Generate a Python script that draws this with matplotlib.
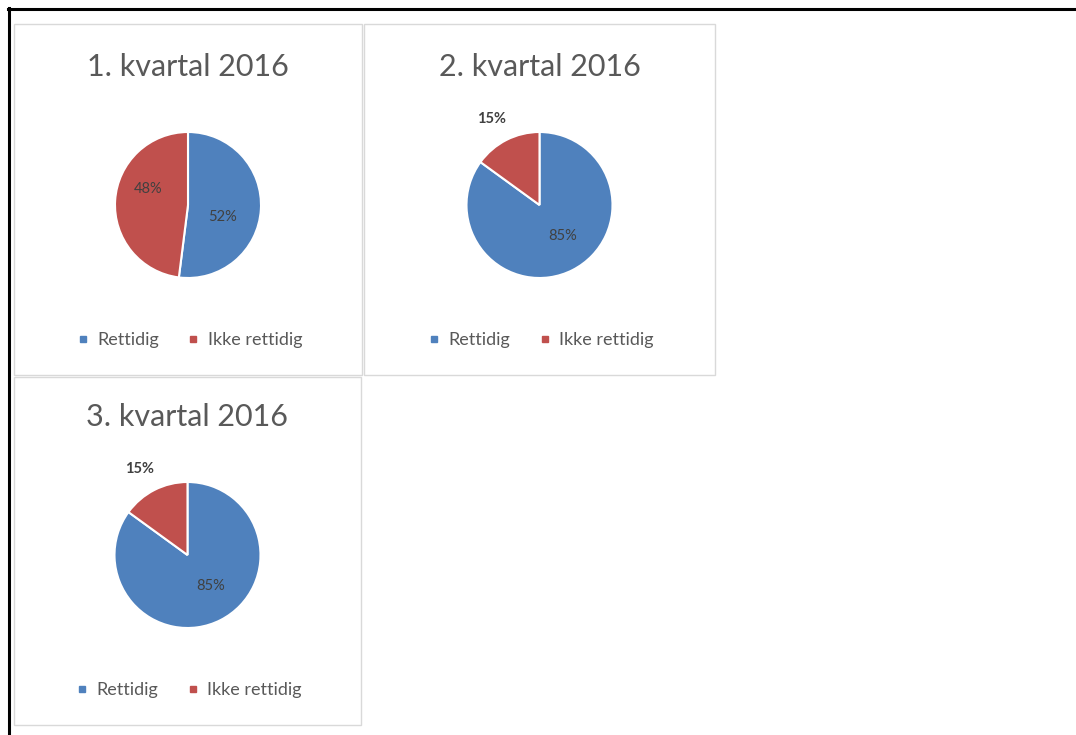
import numpy as np
import matplotlib.pyplot as plt
from matplotlib.patches import Rectangle
from matplotlib.lines import Line2D

# data
titles = ['1. kvartal 2016', '2. kvartal 2016', '3. kvartal 2016']
categories = ['Rettidig', 'Ikke rettidig']
rettidig = [52, 85, 85]
ikke_rettidig = [48, 15, 15]

colors = ['#4F81BD', '#C0504D']
text_col = '#595959'
label_col = '#404040'

W, H = 1076, 735
plt.rcParams['font.family'] = ['Lato', 'DejaVu Sans']

fig = plt.figure(figsize=(W / 100, H / 100), dpi=100)


def fx(px):
    return px / W


def fy(py):
    return 1 - py / H


# outer frame (top + left only, screenshot is cropped)
fig.add_artist(Line2D([fx(8), 1], [fy(8.5), fy(8.5)], color='black', lw=2.2))
fig.add_artist(Line2D([fx(8.5), fx(8.5)], [fy(8), 0], color='black', lw=2.2))

# panel boxes (left, top, right, bottom) in pixels, plus content shift
panels = [(14, 24, 362, 375), (364, 24, 715, 375), (14, 377, 361, 725)]
shifts = [0, 0, -3]
radius_px = 73

# label placement: (distance, angle tweak in degrees) per slice
label_style = [
    [(0.50, -16), (0.59, -18)],
    [(0.53, 10), (1.35, 2)],
    [(0.53, 10), (1.35, 2)],
]

for i, (l, t, r, b) in enumerate(panels):
    fig.add_artist(Rectangle((fx(l), fy(b)), fx(r) - fx(l), fy(t) - fy(b),
                             transform=fig.transFigure, facecolor='white',
                             edgecolor='#D9D9D9', lw=1, zorder=-1))
    top = t + shifts[i]
    cx = (l + r) / 2
    cy = top + 181
    ax = fig.add_axes([fx(cx - radius_px), fy(cy + radius_px),
                       2 * radius_px / W, 2 * radius_px / H])
    vals = [rettidig[i], ikke_rettidig[i]]
    wedges, _ = ax.pie(vals, colors=colors, startangle=90, counterclock=False,
                       wedgeprops=dict(edgecolor='white', linewidth=1.5))
    ax.set_xlim(-1, 1)
    ax.set_ylim(-1, 1)
    ax.axis('off')
    for w, v, (dist, tweak) in zip(wedges, vals, label_style[i]):
        ang = np.deg2rad((w.theta1 + w.theta2) / 2 + tweak)
        ax.text(dist * np.cos(ang), dist * np.sin(ang), f'{v}%',
                ha='center', va='center', fontsize=10.5, color=label_col,
                fontweight='bold' if dist > 1 else 'normal')

    fig.text(fx((l + r) / 2), fy(top + 43), titles[i], ha='center', va='center',
             fontsize=22, color=text_col)

    handles = [Line2D([], [], marker='s', ls='', color=c, markersize=5)
               for c in colors]
    fig.legend(handles, categories, loc='center',
               bbox_to_anchor=(fx((l + r) / 2), fy(top + 316)), ncol=2,
               frameon=False, fontsize=13, labelcolor=text_col,
               handletextpad=0.3, columnspacing=1.4, handlelength=1)

fig.savefig('out.png', dpi=100, facecolor='white')
